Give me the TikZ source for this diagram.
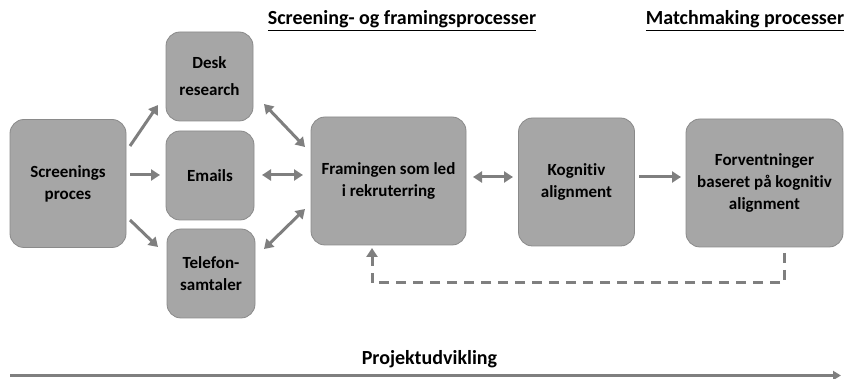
\documentclass[tikz,border=0pt]{standalone}
\usepackage{fontspec}
\setmainfont{Carlito}[Ligatures=NoCommon]
\usetikzlibrary{arrows.meta}
\definecolor{boxfill}{HTML}{A6A6A6}
\definecolor{boxline}{HTML}{8A8A8A}
\definecolor{arr}{HTML}{7F7F7F}
\tikzset{
  procbox/.style={draw=boxline, fill=boxfill, line width=0.8pt, rounded corners=14pt, align=center,
    font=\bfseries\fontsize{17}{22}\selectfont, inner sep=0pt},
  conn/.style={draw=arr, line width=3pt, -{Triangle[length=9pt,width=11pt]}},
  bconn/.style={draw=arr, line width=3pt, {Triangle[length=9pt,width=11pt]}-{Triangle[length=9pt,width=11pt]}},
  dconn/.style={draw=arr, line width=3pt, dash pattern=on 10pt off 7pt, -{Triangle[length=9pt,width=11pt]}},
  ttl/.style={font=\bfseries\fontsize{20}{24}\selectfont}
}
\begin{document}
\begin{tikzpicture}[x=1pt,y=-1pt]
\useasboundingbox (0,0) rectangle (847,379);
\node[procbox, minimum width=116pt, minimum height=128pt] (scr) at (68,183.5) {Screenings\\proces};
\node[procbox, minimum width=87pt, minimum height=89pt] (desk) at (209.5,76.5) {Desk\\[5pt]research};
\node[procbox, minimum width=88pt, minimum height=89pt] (email) at (210,175.5) {Emails};
\node[procbox, minimum width=88pt, minimum height=89pt] (tel) at (211,273.5) {Telefon-\\samtaler};
\node[procbox, minimum width=155pt, minimum height=128pt] (fram) at (388.5,181) {Framingen som led\\i rekruterring};
\node[procbox, minimum width=116pt, minimum height=128pt] (kog) at (576.5,182) {Kognitiv\\alignment};
\node[procbox, minimum width=157pt, minimum height=128pt] (forv) at (764.5,183) {Forventninger\\baseret på kognitiv\\alignment};

\node[ttl, anchor=base] (t1) at (402,25) {\underline{Screening- og framingsprocesser}};
\node[ttl, anchor=base] (t2) at (745,25) {\underline{Matchmaking processer}};
\node[ttl, anchor=base] (t3) at (429.5,365) {Projektudvikling};

\coordinate (s1) at (130,146);
\coordinate (d1) at (158,105);
\draw[conn] (s1) -- (d1);
\coordinate (s2) at (130,175);
\coordinate (e1) at (160,175);
\draw[conn] (s2) -- (e1);
\coordinate (s3) at (130,220);
\coordinate (t1a) at (158,247);
\draw[conn] (s3) -- (t1a);

\coordinate (d2) at (264,104);
\coordinate (f1) at (305,147);
\draw[bconn] (d2) -- (f1);
\coordinate (e2) at (262,175);
\coordinate (f2) at (303,175);
\draw[bconn] (e2) -- (f2);
\coordinate (t2a) at (264,249);
\coordinate (f3) at (305,209);
\draw[bconn] (t2a) -- (f3);

\coordinate (f4) at (473,177);
\coordinate (k1) at (513,177);
\draw[bconn] (f4) -- (k1);
\coordinate (k2) at (639,177);
\coordinate (v1) at (681,177);
\draw[conn] (k2) -- (v1);

\coordinate (v2) at (784,253);
\coordinate (fb) at (372,248);
\draw[dconn] (v2) -- (784,283) -- (372,283) -- (fb);

\coordinate (pa) at (10,375.5);
\coordinate (pb) at (841,375.5);
\draw[draw=arr, line width=3.5pt, -{Triangle[length=8pt,width=9pt]}] (pa) -- (pb);
\end{tikzpicture}
\end{document}
